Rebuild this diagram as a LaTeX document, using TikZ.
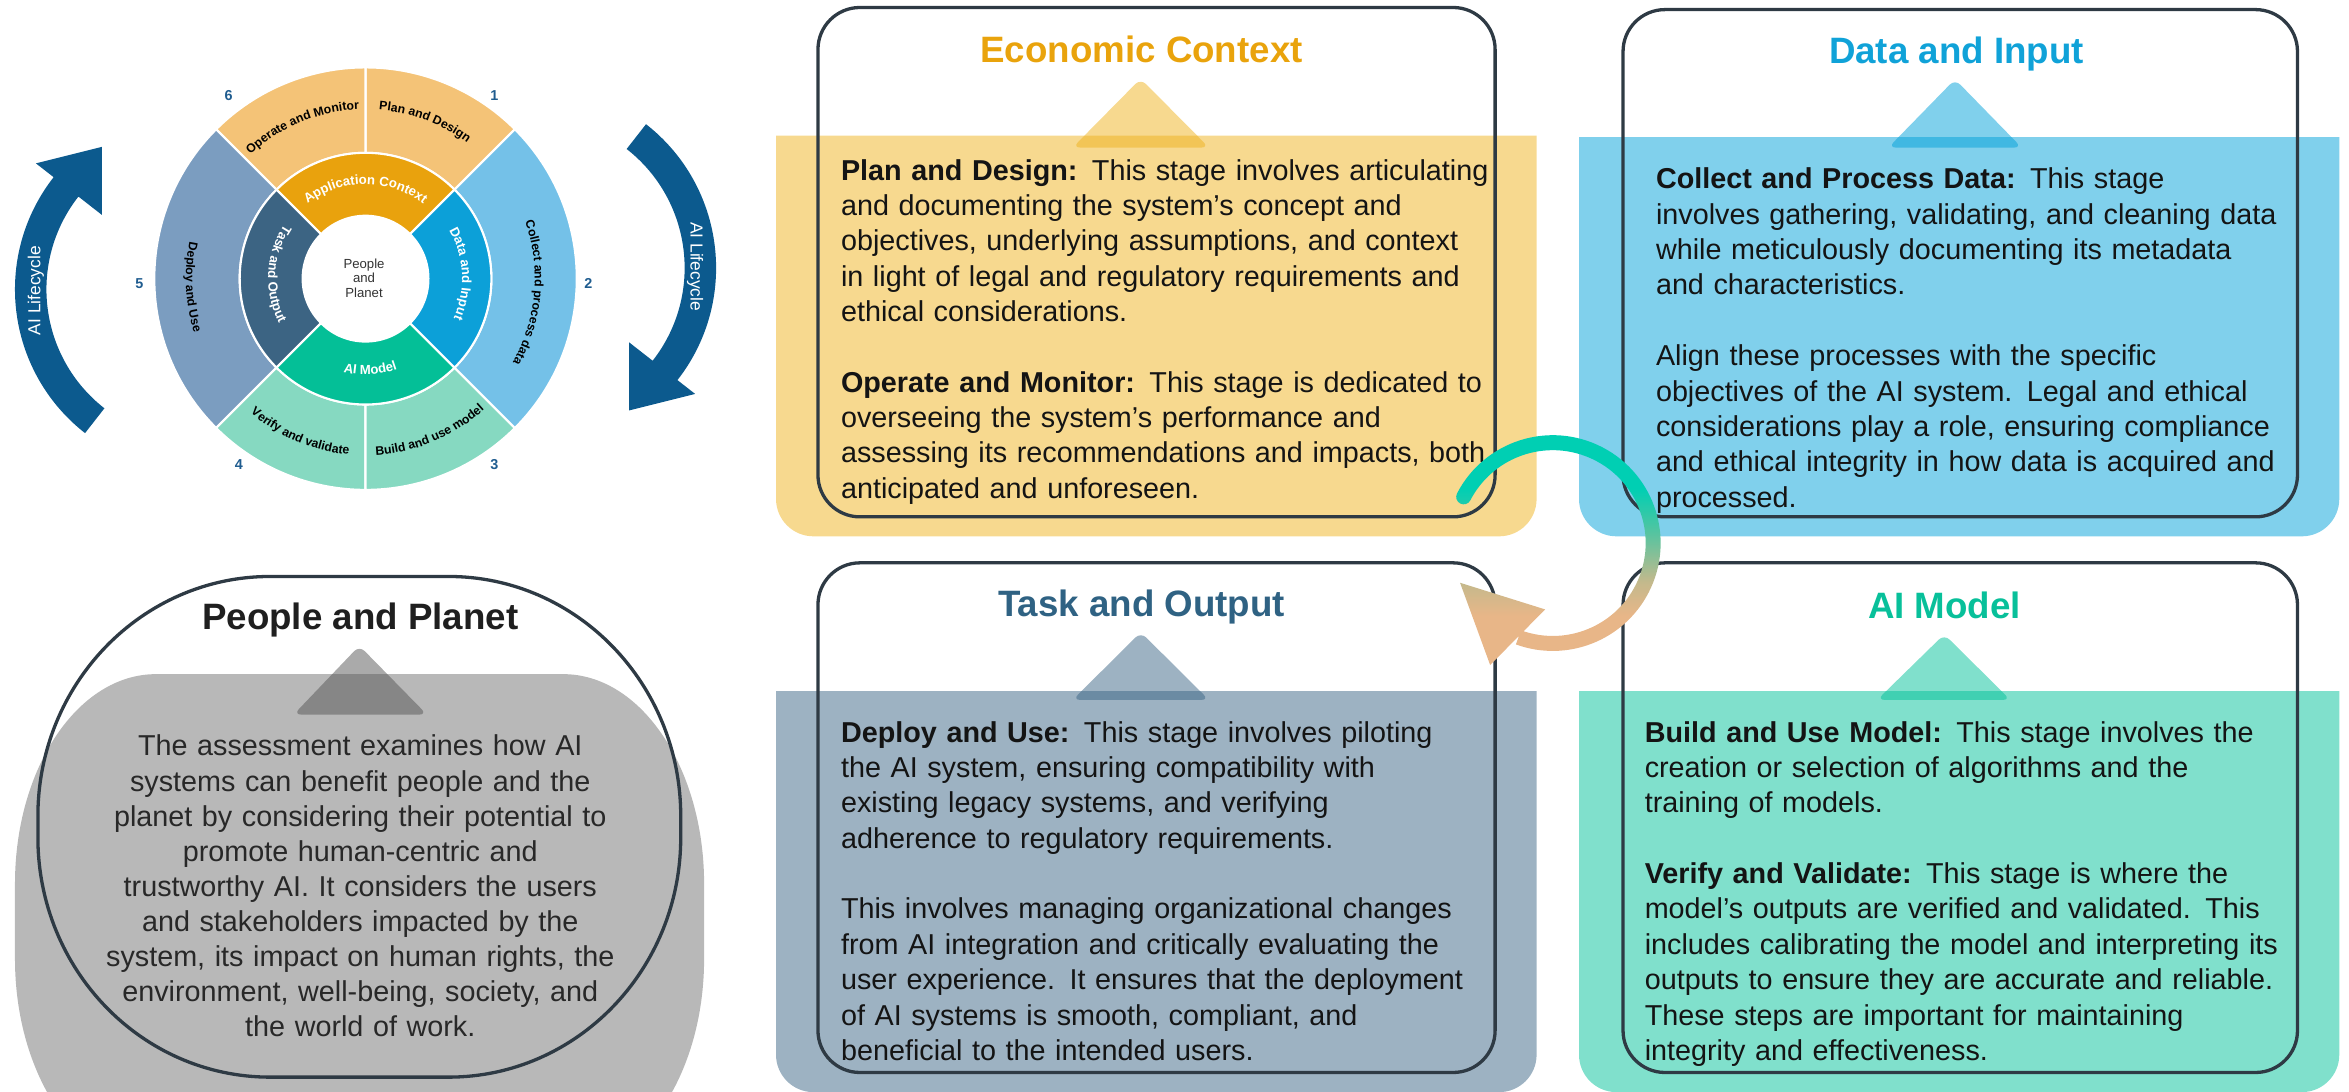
\documentclass[tikz,border=0pt]{standalone}
\usepackage{fontspec}
\setmainfont{Liberation Sans}
\usetikzlibrary{decorations.text}
\definecolor{econfill}{RGB}{247,217,143}
\definecolor{econtitle}{RGB}{233,163,12}
\definecolor{econtri}{RGB}{239,179,31}
\definecolor{datafill}{RGB}{128,208,236}
\definecolor{datatitle}{RGB}{16,162,216}
\definecolor{datatri}{RGB}{1,161,217}
\definecolor{taskfill}{RGB}{157,178,194}
\definecolor{tasktitle}{RGB}{47,98,131}
\definecolor{tasktri}{RGB}{59,101,133}
\definecolor{aifill}{RGB}{128,224,204}
\definecolor{aititle}{RGB}{8,192,154}
\definecolor{aitri}{RGB}{1,193,153}
\definecolor{ppfill}{RGB}{184,184,184}
\definecolor{pptri}{RGB}{85,85,85}
\definecolor{boxline}{RGB}{46,58,68}
\definecolor{bodyc}{RGB}{20,20,20}
\definecolor{pptext}{RGB}{40,40,40}
\definecolor{lifec}{RGB}{12,90,142}
\definecolor{numc}{RGB}{31,92,143}
\definecolor{ringO}{RGB}{244,195,119}
\definecolor{ringOi}{RGB}{233,162,13}
\definecolor{ringB}{RGB}{116,193,232}
\definecolor{ringBi}{RGB}{12,160,216}
\definecolor{ringG}{RGB}{134,217,193}
\definecolor{ringGi}{RGB}{4,191,151}
\definecolor{ringS}{RGB}{123,157,192}
\definecolor{ringSi}{RGB}{60,100,131}
\definecolor{arrtop}{RGB}{0,207,179}
\definecolor{arrmid}{RGB}{85,196,160}
\definecolor{arrkhaki}{RGB}{195,185,140}
\definecolor{arrbot}{RGB}{232,182,136}
\pgfdeclareverticalshading{cyclearrow}{100bp}{color(0bp)=(arrbot); color(35bp)=(arrbot); color(42bp)=(arrkhaki); color(52bp)=(arrmid); color(61bp)=(arrtop); color(100bp)=(arrtop)}
\newcommand\circoutfont{\fontsize{4.1}{4.1}\selectfont\bfseries}
\newcommand\circinfont{\fontsize{4.4}{4.4}\selectfont\bfseries}
\begin{document}
\begin{tikzpicture}[x=0.5pt,y=0.5pt,
  outlinebox/.style={draw=boxline, line width=1.1pt, rounded corners=14pt},
  titletext/.style={font=\fontsize{12.25}{14}\selectfont\bfseries, anchor=base, inner sep=0pt},
  bodytext/.style={font=\fontsize{9.6}{11.8}\selectfont, text=bodyc, anchor=base west, inner sep=0pt, align=left},
  tri/.style={rounded corners=2.5pt, fill opacity=0.5},
  seg/.style={draw=white, line width=0.7pt},
  num/.style={font=\fontsize{4.8}{5}\selectfont\bfseries, text=numc, inner sep=0pt},
  lifetext/.style={font=\fontsize{5.8}{6}\selectfont, text=white, inner sep=0pt},
  arclabel/.style={decorate, decoration={text along path, text align=center, text={#1}}}
]
\useasboundingbox (0,0) rectangle (1568,-728.3);

% ---------- coloured panels ----------
\fill[econfill] (518,-90.5) -- (1025.7,-90.5) -- (1025.7,-333) arc[start angle=0,end angle=-90,radius=12.5pt] -- (543,-358) arc[start angle=270,end angle=180,radius=12.5pt] -- cycle;
\fill[datafill] (1054,-91.6) -- (1561.5,-91.6) -- (1561.5,-333) arc[start angle=0,end angle=-90,radius=12.5pt] -- (1079,-358) arc[start angle=270,end angle=180,radius=12.5pt] -- cycle;
\fill[taskfill] (518,-461.4) -- (1025.7,-461.4) -- (1025.7,-704) arc[start angle=0,end angle=-90,radius=12.5pt] -- (543,-729) arc[start angle=270,end angle=180,radius=12.5pt] -- cycle;
\fill[aifill] (1054,-461.4) -- (1561.5,-461.4) -- (1561.5,-704) arc[start angle=0,end angle=-90,radius=12.5pt] -- (1079,-729) arc[start angle=270,end angle=180,radius=12.5pt] -- cycle;
\fill[ppfill] (10,-590) arc[start angle=180,end angle=90,x radius=47pt,y radius=70pt] -- (376,-450) arc[start angle=90,end angle=0,x radius=47pt,y radius=70pt] -- (470,-640) arc[start angle=0,end angle=-90,x radius=47pt,y radius=70pt] -- (104,-780) arc[start angle=270,end angle=180,x radius=47pt,y radius=70pt] -- cycle;

% ---------- triangles ----------
\fill[tri, fill=econtri] (761.4,-52.5) -- (807,-98.5) -- (716,-98.5) -- cycle;
\fill[tri, fill=datatri] (1305,-52.9) -- (1349.5,-98.5) -- (1260.5,-98.5) -- cycle;
\fill[tri, fill=tasktri] (761.5,-422) -- (807,-467.2) -- (716,-467.2) -- cycle;
\fill[tri, fill=aitri] (1297.8,-423.4) -- (1342,-467.2) -- (1253,-467.2) -- cycle;
\fill[tri, fill=pptri] (239.9,-431) -- (285,-477) -- (196,-477) -- cycle;

% ---------- outlines ----------
\draw[outlinebox] (546,-5) rectangle (998,-345);
\draw[outlinebox] (1083.4,-6.4) rectangle (1533.6,-345);
\draw[outlinebox] (546,-375.7) rectangle (998,-715.9);
\draw[outlinebox] (1083.4,-375.7) rectangle (1533.6,-715.9);
\draw[draw=boxline, line width=1.1pt] (25.3,-544.8) arc[start angle=180,end angle=90,x radius=77.5pt,y radius=80pt] -- (299.4,-384.8) arc[start angle=90,end angle=0,x radius=77.5pt,y radius=80pt] -- (454.4,-559) arc[start angle=0,end angle=-90,x radius=77.5pt,y radius=80pt] -- (180.3,-719) arc[start angle=270,end angle=180,x radius=77.5pt,y radius=80pt] -- cycle;

% ---------- titles ----------
\node[titletext, text=econtitle] (econtitle) at (762,-41.4) {Economic Context};
\node[titletext, text=datatitle] (datatitle) at (1306,-42.6) {Data and Input};
\node[titletext, text=tasktitle] (tasktitle) at (762,-411.6) {Task and Output};
\node[titletext, text=aititle] (aititle) at (1298,-412.6) {AI Model};
\node[titletext, text=black!88] (pptitle) at (240.5,-420) {People and Planet};

% ---------- body texts ----------
\node[bodytext, text width=240pt] (econbody) at (561,-120.2) {\textbf{Plan and Design:} This stage involves articulating\\
and documenting the system’s concept and\\
objectives, underlying assumptions, and context\\
in light of legal and regulatory requirements and\\
ethical considerations.\\[11.8pt]
\textbf{Operate and Monitor:} This stage is dedicated to\\
overseeing the system’s performance and\\
assessing its recommendations and impacts, both\\
anticipated and unforeseen.};

\node[bodytext, text width=240pt] (databody) at (1105,-126.1) {\textbf{Collect and Process Data:} This stage\\
involves gathering, validating, and cleaning data\\
while meticulously documenting its metadata\\
and characteristics.\\[11.8pt]
Align these processes with the specific\\
objectives of the AI system. Legal and ethical\\
considerations play a role, ensuring compliance\\
and ethical integrity in how data is acquired and\\
processed.};

\node[bodytext, text width=240pt] (taskbody) at (561,-495.4) {\textbf{Deploy and Use:} This stage involves piloting\\
the AI system, ensuring compatibility with\\
existing legacy systems, and verifying\\
adherence to regulatory requirements.\\[11.8pt]
This involves managing organizational changes\\
from AI integration and critically evaluating the\\
user experience. It ensures that the deployment\\
of AI systems is smooth, compliant, and\\
beneficial to the intended users.};

\node[bodytext, text width=240pt] (aibody) at (1097.5,-495.4) {\textbf{Build and Use Model:} This stage involves the\\
creation or selection of algorithms and the\\
training of models.\\[11.8pt]
\textbf{Verify and Validate:} This stage is where the\\
model’s outputs are verified and validated. This\\
includes calibrating the model and interpreting its\\
outputs to ensure they are accurate and reliable.\\
These steps are important for maintaining\\
integrity and effectiveness.};

\node[font=\fontsize{9.6}{11.7}\selectfont, text=pptext, anchor=base, inner sep=0pt, align=center, text width=215pt] (ppbody) at (240.5,-504.6) {The assessment examines how AI\\
systems can benefit people and the\\
planet by considering their potential to\\
promote human-centric and\\
trustworthy AI. It considers the users\\
and stakeholders impacted by the\\
system, its impact on human rights, the\\
environment, well-being, society, and\\
the world of work.};

% ---------- lifecycle wheel ----------
\begin{scope}[shift={(244,-186)}]
\foreach \a/\b/\c in {45/90/ringO, 90/135/ringO, 135/225/ringS, 225/270/ringG, 270/315/ringG, -45/45/ringB}{
  \filldraw[seg, fill=\c] (\a:42pt) arc[start angle=\a, end angle=\b, radius=42pt] -- (\b:70.5pt) arc[start angle=\b, end angle=\a, radius=70.5pt] -- cycle;
}
\foreach \a/\b/\c in {45/135/ringOi, 135/225/ringSi, 225/315/ringGi, -45/45/ringBi}{
  \filldraw[seg, fill=\c] (\a:21pt) arc[start angle=\a, end angle=\b, radius=21pt] -- (\b:42pt) arc[start angle=\b, end angle=\a, radius=42pt] -- cycle;
}
\path[arclabel={|\circoutfont\color{black}|Operate and Monitor}] (135:56.5pt) arc[start angle=135, end angle=90, radius=56.5pt];
\path[arclabel={|\circoutfont\color{black}|Plan and Design}] (91.8:56.5pt) arc[start angle=91.8, end angle=46.8, radius=56.5pt];
\path[arclabel={|\circoutfont\color{black}|Collect and process data}] (40:56.5pt) arc[start angle=40, end angle=-50, radius=56.5pt];
\path[arclabel={|\circoutfont\color{black}|Deploy and Use}] (137.8:60pt) arc[start angle=137.8, end angle=227.8, radius=60pt];
\path[arclabel={|\circoutfont\color{black}|Verify and validate}] (224.5:59pt) arc[start angle=224.5, end angle=269.5, radius=59pt];
\path[arclabel={|\circoutfont\color{black}|Build and use model}] (270.3:59pt) arc[start angle=270.3, end angle=315.3, radius=59pt];
\path[arclabel={|\circinfont\color{white}|Application Context}] (135:31.5pt) arc[start angle=135, end angle=45, radius=31.5pt];
\path[arclabel={|\circinfont\color{white}|Data and Input}] (48:32.25pt) arc[start angle=48, end angle=-42, radius=32.25pt];
\path[arclabel={|\circinfont\color{white}|Task and Output}] (132:32.5pt) arc[start angle=132, end angle=222, radius=32.5pt];
\path[arclabel={|\circinfont\color{white}|AI Model}] (228:32pt) arc[start angle=228, end angle=318, radius=32pt];
\end{scope}
\node[font=\fontsize{4.4}{4.85}\selectfont, align=center, text=black!80, inner sep=0pt] (ppcentre) at (243,-185.5) {People\\and\\Planet};

\node[num] (n1) at (330,-64) {1};
\node[num] (n2) at (392.7,-189) {2};
\node[num] (n3) at (330,-310) {3};
\node[num] (n4) at (159.4,-310) {4};
\node[num] (n5) at (93,-189) {5};
\node[num] (n6) at (152.6,-64) {6};

% ---------- AI Lifecycle arrows ----------
\fill[lifec, shift={(131.7,-193.2)}] (232:60.85pt) arc[start angle=232, end angle=142, radius=60.85pt] -- (142:68.35pt) -- (123.8:57.25pt) -- (142:40.4pt) -- (142:50.35pt) arc[start angle=142, end angle=232, radius=50.35pt] -- cycle;
\begin{scope}[rotate around={180:(244,-186)}]
\fill[lifec, shift={(131.7,-193.2)}] (232:60.85pt) arc[start angle=232, end angle=142, radius=60.85pt] -- (142:68.35pt) -- (123.8:57.25pt) -- (142:40.4pt) -- (142:50.35pt) arc[start angle=142, end angle=232, radius=50.35pt] -- cycle;
\end{scope}
\node[lifetext, rotate=90] (lifeleft) at (24,-194) {AI Lifecycle};
\node[lifetext, rotate=-90] (liferight) at (464,-178) {AI Lifecycle};

% ---------- central cycle arrow ----------
\shade[shading=cyclearrow, shift={(1036.5,-362.5)}]
  (152.6:36pt) arc[start angle=152.6, end angle=-110, radius=36pt]
  -- (-110:31pt) arc[start angle=-110, end angle=152.6, radius=31pt]
  arc[start angle=332.6, end angle=152.6, radius=2.5pt] -- cycle
  (-61.9,-26.5) -- (-5.1,-44.3) -- (-41.8,-81.4) -- cycle;
\end{tikzpicture}
\end{document}
